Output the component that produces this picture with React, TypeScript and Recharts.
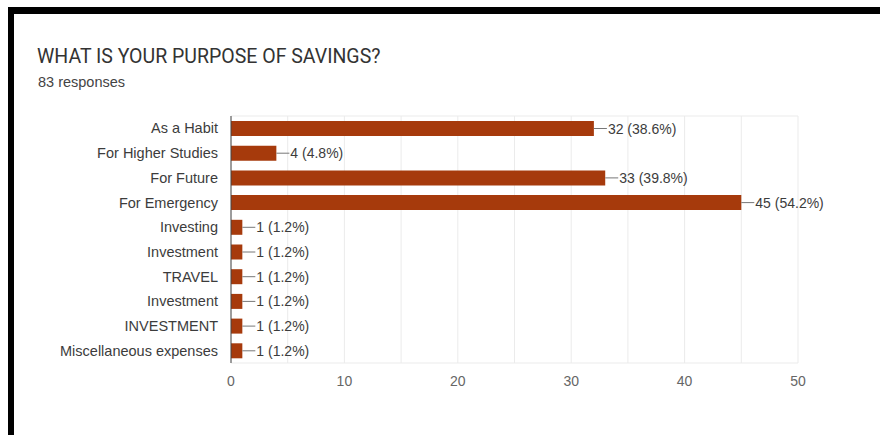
import React from 'react';
import { BarChart, Bar, XAxis, YAxis, CartesianGrid, LabelList } from 'recharts';

const categories = [
  'As a Habit',
  'For Higher Studies',
  'For Future',
  'For Emergency',
  'Investing',
  'Investment',
  'TRAVEL',
  'Investment',
  'INVESTMENT',
  'Miscellaneous expenses',
];
const counts = [32, 4, 33, 45, 1, 1, 1, 1, 1, 1];
const totalResponses = 83;
const xTicks = [0, 10, 20, 30, 40, 50];
const gridTicks = [0, 5, 10, 15, 20, 25, 30, 35, 40, 45, 50];
const X_MAX = 50;

const BAR_COLOR = '#a63a0c';
const FONT = '"Liberation Sans", Arial, sans-serif';

const data = categories.map((name, i) => ({ name, count: counts[i] }));

// "—32 (38.6%)" style label drawn right after the bar end
const ValueLabel = (props: any) => {
  const { x, y, width, height, value } = props;
  const cy = y + height / 2;
  const x0 = x + width;
  const pct = ((value / totalResponses) * 100).toFixed(1);
  return (
    <g>
      <line x1={x0} x2={x0 + 13} y1={cy} y2={cy} stroke="#777" strokeWidth={1} />
      <text
        x={x0 + 14}
        y={cy}
        dominantBaseline="central"
        fontSize={14}
        fontFamily={FONT}
        fill="#3c3c3c"
      >
        {`${value} (${pct}%)`}
      </text>
    </g>
  );
};

const App: React.FC = () => {
  return (
    <div style={{ position: 'absolute', left: 0, top: 0, width: 880, height: 435, background: '#fff', overflow: 'hidden' }}>
      <div
        style={{
          position: 'absolute',
          left: 8,
          top: 7,
          width: 872,
          height: 428,
          borderTop: '7px solid #000',
          borderLeft: '6px solid #000',
          boxSizing: 'border-box',
        }}
      />
      <div
        style={{
          position: 'absolute',
          left: 37,
          top: 47,
          fontFamily: 'Roboto, Arial, sans-serif',
          fontSize: 19.5,
          lineHeight: '19.5px',
          color: '#333',
          whiteSpace: 'nowrap',
        }}
      >
        WHAT IS YOUR PURPOSE OF SAVINGS?
      </div>
      <div
        style={{
          position: 'absolute',
          left: 38,
          top: 75,
          fontFamily: FONT,
          fontSize: 14.5,
          lineHeight: '14.5px',
          color: '#444',
          whiteSpace: 'nowrap',
        }}
      >
        83 responses
      </div>
      <div style={{ position: 'absolute', left: 0, top: 0 }}>
        <BarChart
          width={880}
          height={435}
          data={data}
          layout="vertical"
          margin={{ top: 116, right: 82, bottom: 42, left: 0 }}
        >
          <CartesianGrid
            stroke="#ebebeb"
            horizontalCoordinatesGenerator={({ offset }: any) => [offset.top, offset.top + offset.height]}
            verticalCoordinatesGenerator={({ offset }: any) =>
              gridTicks.map((t) => offset.left + (t / X_MAX) * offset.width)
            }
          />
          <XAxis
            type="number"
            domain={[0, X_MAX]}
            ticks={xTicks}
            axisLine={false}
            tickLine={false}
            tickMargin={7}
            height={30}
            tick={{ fontSize: 14, fill: '#666', fontFamily: FONT }}
          />
          <YAxis
            type="category"
            dataKey="name"
            width={231}
            axisLine={{ stroke: '#444' }}
            tickLine={false}
            tickMargin={7}
            interval={0}
            tick={{ fontSize: 14.5, fill: '#3c3c3c', fontFamily: FONT }}
          />
          <Bar dataKey="count" fill={BAR_COLOR} barSize={15} isAnimationActive={false}>
            <LabelList dataKey="count" content={ValueLabel} />
          </Bar>
        </BarChart>
      </div>
    </div>
  );
};

export default App;
